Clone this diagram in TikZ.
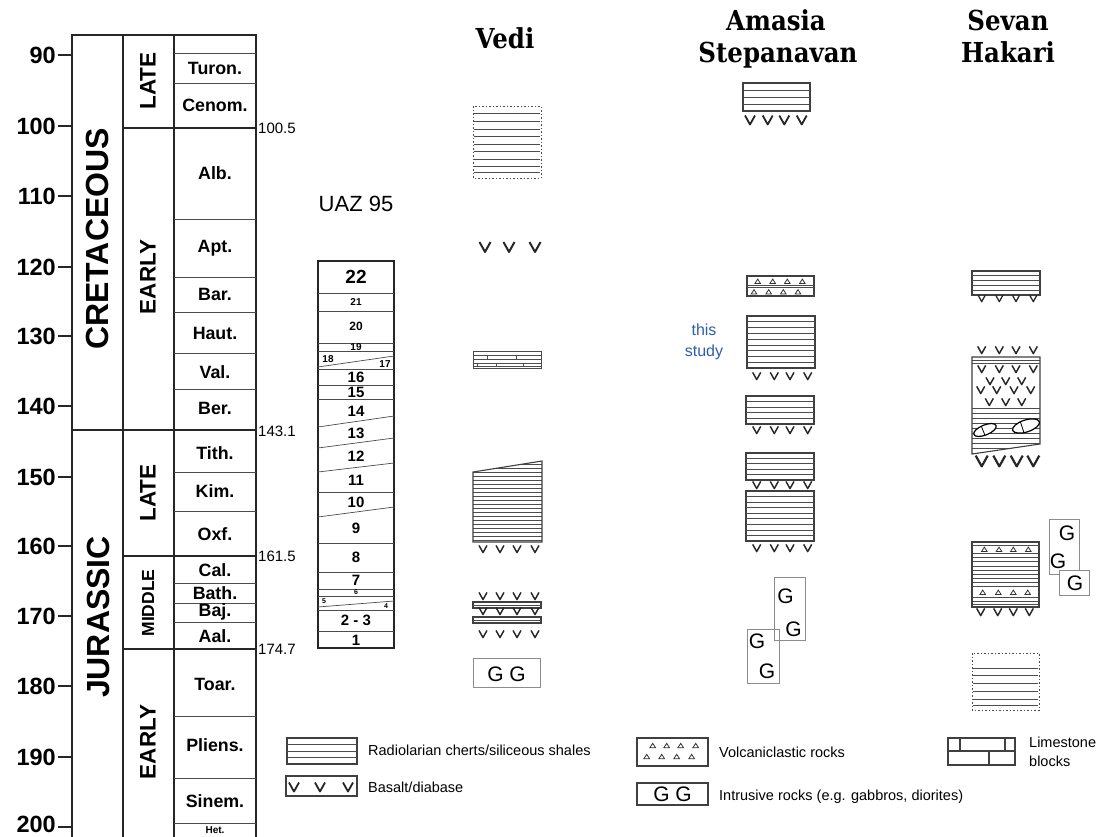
\documentclass[tikz,border=0pt]{standalone}
\usepackage{fontspec}
\setmainfont{Liberation Sans}
\newfontfamily\ttlfont{DejaVu Serif}
\newcommand\fsz[1]{\fontsize{#1}{#1}\selectfont}
\newcommand\ttl[1]{\scalebox{0.89}[1]{#1}}
\definecolor{studyblue}{RGB}{46,95,170}
\newcommand\chert[5]{\draw[sym] (#1,#2) rectangle (#3,#4);
 \foreach \k in {1,...,#5}{\draw[symthin] (#1,{#2+(#4-#2)*\k/(#5+1)}) -- (#3,{#2+(#4-#2)*\k/(#5+1)});}}
\newcommand\vm[3]{\draw[vline, line width={#3*0.18pt}] ({#1-0.5*#3},{#2-0.45*#3}) -- (#1,{#2+0.45*#3}) -- ({#1+0.5*#3},{#2-0.45*#3});}
\newcommand\vrow[3]{\foreach \xx in {#1}{\vm{\xx}{#2}{#3}}}
\newcommand\tri[2]{\draw[trist] ({#1-2.8},{#2+2}) -- ({#1+2.8},{#2+2}) -- (#1,{#2-2.4}) -- cycle;}
\newcommand\trow[2]{\foreach \xx in {#1}{\tri{\xx}{#2}}}
\tikzset{
 frame/.style={line width=2.6pt, draw=black!85, line cap=rect},
 stageline/.style={line width=1pt, draw=black!70},
 sym/.style={draw=black!75, line width=1.1pt},
 symthin/.style={draw=black!70, line width=0.7pt},
 vline/.style={draw=black!85, line join=round, line cap=butt},
 trist/.style={draw=black!80, line width=0.8pt},
 gbox/.style={draw=black!45, line width=0.9pt},
 dotbox/.style={draw=black!70, line width=1pt, dash pattern=on 1.5pt off 2pt},
 ticklab/.style={font=\bfseries\fsz{23.5}, inner sep=0pt},
 stagelab/.style={font=\bfseries\fsz{17.8}, inner sep=0pt},
 agelab/.style={font=\fsz{15}, anchor=west, inner sep=0pt},
 perlab/.style={font=\bfseries\fsz{32}, rotate=90, inner sep=0pt},
 eplab/.style={font=\bfseries\fsz{22.5}, rotate=90, inner sep=0pt},
 unum/.style={font=\bfseries\fsz{15}, inner sep=0pt},
 title/.style={font=\ttlfont\bfseries\fsz{27.5}, inner sep=0pt, anchor=base},
 gtxt/.style={font=\fsz{21}, inner sep=0pt},
 legtxt/.style={font=\fsz{14.5}, anchor=west, inner sep=0pt},
}
\begin{document}
\begin{tikzpicture}[x=1pt,y=-1pt]
\useasboundingbox[fill=white] (0,0) rectangle (1120,836);
% ---------------- time scale ----------------
\foreach \a/\y/\ly in {90/55/55,100/126/126,110/196/196,120/267/267,130/336/336,140/406/406,150/477/477,160/546/546,170/616/616,180/686/686,190/757/757,200/827/824.5}{
  \draw[frame, line cap=butt] (58,\y) -- (72,\y);
  \node[ticklab, anchor=east] (tick\a) at (56,\ly) {\a};
}
\draw[frame] (72,845) -- (72,35) -- (256,35) -- (256,845);
\draw[frame] (123,35) -- (123,845);
\draw[frame] (174,35) -- (174,845);
\draw[frame] (123,128) -- (256,128);
\draw[frame] (72,430) -- (256,430);
\draw[frame] (123,556) -- (256,556);
\draw[frame] (123,649) -- (256,649);
\foreach \y in {53,83,219,277,312,353,389,472,511,583,603,622,716,778,823}
  \draw[stageline] (174,\y) -- (256,\y);
\foreach \n/\y/\t in {a/68/Turon.,b/105/Cenom.,c/173/Alb.,d/248/Apt.,e/294/Bar.,f/333/Haut.,g/372/Val.,h/408/Ber.,i/453/Tith.,j/491/Kim.,k/534/Oxf.,l/570/Cal.,m/593/Bath.,n/612/Baj.,o/636/Aal.,p/684/Toar.,q/745/Pliens.,r/801/Sinem.}
  \node[stagelab] (st\n) at (215,\y) {\t};
\node[stagelab, font=\bfseries\fsz{10}] (sthet) at (215,830) {Het.};
\node[perlab] (cret) at (97,239) {CRETACEOUS};
\node[perlab] (jur) at (98,617) {JURASSIC};
\node[eplab] (klate) at (148,81) {LATE};
\node[eplab] (kearly) at (148,277) {EARLY};
\node[eplab] (jlate) at (148,493) {LATE};
\node[eplab, font=\bfseries\fsz{17.5}] (jmid) at (148,603) {MIDDLE};
\node[eplab] (jearly) at (148,742) {EARLY};
\node[agelab] (a1) at (258,128) {100.5};
\node[agelab] (a2) at (258,431) {143.1};
\node[agelab] (a3) at (258,556) {161.5};
\node[agelab] (a4) at (258,649) {174.7};
% ---------------- UAZ 95 ----------------
\node[font=\fsz{22}, inner sep=0pt] (uaz) at (356,204) {UAZ 95};
\draw[line width=1.8pt, draw=black!85] (318,261) rectangle (394,648);
\foreach \y in {293,311,343,351,369,385,399,492,543,572,589,596,610,631}
  \draw[symthin] (318,\y) -- (394,\y);
\draw[symthin] (318,367) -- (394,356);
\draw[symthin] (318,427) -- (394,416);
\draw[symthin] (318,448) -- (394,438);
\draw[symthin] (318,472) -- (394,463);
\draw[symthin] (318,517) -- (394,507);
\draw[symthin] (318,607) -- (394,601);
\node[unum, font=\bfseries\fsz{19}] (u22) at (356,277) {22};
\node[unum, font=\bfseries\fsz{10}] (u21) at (356,302) {21};
\node[unum, font=\bfseries\fsz{12}] (u20) at (356,326) {20};
\node[unum, font=\bfseries\fsz{10}] (u19) at (356,347) {19};
\node[unum, font=\bfseries\fsz{10}] (u18) at (328,359) {18};
\node[unum, font=\bfseries\fsz{10}] (u17) at (385,364) {17};
\foreach \n/\y in {16/377,15/392,14/411,13/433,12/456,11/480,10/502,9/528,8/557,7/580}
  \node[unum] (u\n) at (356,\y) {\n};
\node[unum, font=\bfseries\fsz{7}] (u6) at (356,592) {6};
\node[unum, font=\bfseries\fsz{7}] (u5) at (324,601) {5};
\node[unum, font=\bfseries\fsz{7}] (u4) at (386,606) {4};
\node[unum] (u23) at (356,620) {2 - 3};
\node[unum] (u1) at (356,640) {1};
% ---------------- Vedi ----------------
\node[title] (vedi) at (505,48) {\ttl{Vedi}};
\draw[dotbox] (473,106) rectangle (541,178);
\foreach \y in {113.5,121.5,129,136.5,144,151.5,159,166.5,172}
  \draw[symthin] (474,\y) -- (540,\y);
\vrow{485,509,535}{247}{11}
% limestone
\draw[symthin] (473,351) rectangle (541,368);
\foreach \y in {355,359.5,363,366}
  \draw[symthin] (473,\y) -- (541,\y);
\draw[symthin] (487,355) -- (487,359.5);
\draw[symthin] (516,355) -- (516,359.5);
\draw[symthin] (477,363) -- (477,366);
\draw[symthin] (496,363) -- (496,366);
\draw[symthin] (523,363) -- (523,366);
% big chert
\begin{scope}
\clip (473,472) -- (542,461) -- (542,542) -- (473,542) -- cycle;
\foreach \y in {464,468,...,540}
  \draw[symthin] (473,\y) -- (542,\y);
\end{scope}
\draw[sym] (473,472) -- (542,461) -- (542,542) -- (473,542) -- cycle;
\vrow{483,500,517,535}{549}{8}
\vrow{483,500,517,535}{596}{8}
\draw[sym] (473,602) rectangle (541,608);
\draw[symthin] (473,605) -- (541,605);
\vrow{483,500,517,535}{611}{8}
\draw[sym] (473,617) rectangle (541,623);
\draw[symthin] (473,620) -- (541,620);
\vrow{483,500,517,535}{634}{8}
\draw[gbox] (473,658) rectangle (540,687);
\node[gtxt] (vg) at (506.5,674) {G G};
% ---------------- Amasia ----------------
\node[title] (am1) at (776,30) {\ttl{Amasia}};
\node[title] (am2) at (778,62) {\ttl{Stepanavan}};
\chert{743}{83}{810}{111}{3}
\vrow{750,767.7,784.3,801.7}{120}{10}
\draw[sym] (747,276) rectangle (814,296);
\draw[symthin] (747,285) -- (814,285);
\draw[symthin] (747,287.5) -- (814,287.5);
\trow{757.7,772.7,787.3,802.3}{281.5}
\trow{754,768.7,783.3,798}{292}
\chert{747}{316}{815}{368}{8}
\vrow{756.7,774.3,790,807.7}{376}{8}
\chert{746}{396}{814}{424}{4}
\vrow{756.7,774.3,790,807.7}{430}{8}
\chert{746}{453}{814}{480}{4}
\vrow{756.7,774.3,790,807.7}{485}{8}
\chert{746}{491}{814}{541}{8}
\vrow{756.7,774.3,790,807.7}{548}{8}
\draw[gbox] (774,577) rectangle (805,640);
\node[gtxt] (ag1) at (785.5,596) {G};
\node[gtxt] (ag2) at (793.5,629) {G};
\draw[gbox] (747,629) rectangle (779,683);
\node[gtxt] (ag3) at (757,641) {G};
\node[gtxt] (ag4) at (767,671) {G};
\node[font=\fsz{16}, text=studyblue, inner sep=0pt] (ts1) at (704,330) {this};
\node[font=\fsz{16}, text=studyblue, inner sep=0pt] (ts2) at (704,352) {study};
% ---------------- Sevan ----------------
\node[title] (sv1) at (1008,30) {\ttl{Sevan}};
\node[title] (sv2) at (1008,62) {\ttl{Hakari}};
\chert{972}{271}{1040}{295}{4}
\vrow{981.7,999.3,1016,1033.3}{298.5}{7}
\vrow{981.7,999.3,1016,1033.3}{350}{8}
\begin{scope}
\clip (972,357) -- (1040,357) -- (1040,444) -- (972,454) -- cycle;
\foreach \y in {360,363,408,413,...,453}
  \draw[symthin] (972,\y) -- (1040,\y);
\end{scope}
\draw[sym] (972,357) -- (1040,357) -- (1040,444) -- (972,454) -- cycle;
\vrow{981.7,999.3,1016,1033.3}{369}{8}
\vrow{990,1005.7,1021.7}{381}{8}
\vrow{980.7,996.7,1014,1030.7}{390}{8}
\vrow{989.3,1005.7,1021.7}{402}{8}
\begin{scope}[shift={(985,430)}, rotate=22]
\draw[fill=white, line width=1.2pt] (0,0) ellipse (12 and 5);
\draw[line width=0.8pt] (-2,-4.8) -- (-2,4.8);
\end{scope}
\begin{scope}[shift={(1026,426)}, rotate=18]
\draw[fill=white, line width=1.2pt] (0,0) ellipse (14 and 6);
\draw[line width=0.8pt] (-4,-5.8) -- (-4,5.8);
\end{scope}
\vrow{981.7,999.3,1016.7,1033.3}{461}{12}
% Sevan lower
\foreach \y in {553,557,561.5,566,570,574,578,582,586,597,601,604}
  \draw[symthin] (972,\y) -- (1039,\y);
\draw[sym, line width=1.4pt] (972,542) rectangle (1039,607);
\draw[symthin] (972,545) -- (1039,545);
\trow{984.3,999,1013.3,1028.3}{549.5}
\trow{982.7,998.3,1013.3,1027.7}{592.5}
\vrow{980.7,997.7,1013.3,1029.3}{612}{8}
\draw[gbox] (1049,519) rectangle (1079,574);
\node[gtxt] (sg1) at (1067,533) {G};
\node[gtxt] (sg2) at (1058,561) {G};
\draw[gbox, fill=white] (1059,570) rectangle (1089,595);
\node[gtxt] (sg3) at (1075,583) {G};
\draw[dotbox] (972,653) rectangle (1039,710);
\foreach \y in {668,675,683,691,699,705}
  \draw[symthin] (973,\y) -- (1038,\y);
% ---------------- legend ----------------
\chert{287}{738}{357}{764}{3}
\node[legtxt] (l1) at (368,750) {Radiolarian cherts/siliceous shales};
\draw[sym] (286,776) rectangle (357,796);
\vrow{294,320,348}{787}{10}
\node[legtxt] (l2) at (368,787) {Basalt/diabase};
\draw[sym] (637,738) rectangle (708,766);
\trow{652.7,666.7,680.7,695.7}{745.7}
\trow{646.7,661.7,676.7,691.7}{756.7}
\node[legtxt] (l3) at (719,752) {Volcaniclastic rocks};
\draw[sym] (637,783) rectangle (708,805);
\node[gtxt] (lg) at (672.5,794.5) {G G};
\node[legtxt] (l4) at (719,797) {Intrusive rocks (e.g. gabbros, diorites)};
\draw[sym] (948,738) rectangle (1015,765);
\draw[sym] (948,751) -- (1015,751);
\draw[sym] (960,738) -- (960,751);
\draw[sym] (1005,738) -- (1005,751);
\draw[sym] (989,751) -- (989,765);
\node[legtxt] (l5) at (1029,742) {Limestone};
\node[legtxt] (l6) at (1029,761) {blocks};
\end{tikzpicture}
\end{document}
